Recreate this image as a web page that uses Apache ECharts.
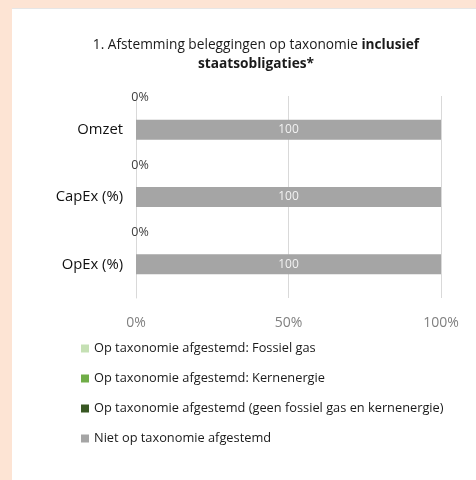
<!DOCTYPE html>
<html>
<head>
<meta charset="utf-8">
<script src="https://cdn.jsdelivr.net/npm/echarts@6/dist/echarts.min.js"></script>
<style>
html,body{margin:0;padding:0;background:#fff;}
#c{width:476px;height:480px;}
</style>
</head>
<body>
<div id="c"></div>
<script>
var categories = ['Omzet', 'CapEx (%)', 'OpEx (%)'];
var seriesNames = [
  'Op taxonomie afgestemd: Fossiel gas',
  'Op taxonomie afgestemd: Kernenergie',
  'Op taxonomie afgestemd (geen fossiel gas en kernenergie)',
  'Niet op taxonomie afgestemd'
];
var fossielGas = [0, 0, 0];
var kernenergie = [0, 0, 0];
var geenFossiel = [0, 0, 0];
var nietAfgestemd = [100, 100, 100];
var xTicks = [0, 50, 100];
var colors = ['#c5e0b4', '#70ad47', '#385723', '#a5a5a5'];

var FONT = 'Open Sans';
var chart = echarts.init(document.getElementById('c'));
var values = [fossielGas, kernenergie, geenFossiel, nietAfgestemd];

var series = values.map(function (vals, i) {
  var s = {
    name: seriesNames[i],
    type: 'bar',
    stack: 'total',
    data: vals,
    barWidth: 20,
    itemStyle: { color: colors[i] },
    emphasis: { disabled: true },
    label: { show: false }
  };
  if (i === 0) {
    s.label = {
      show: true,
      position: [4, -22],
      align: 'center',
      verticalAlign: 'middle',
      formatter: '{c}%',
      color: '#404040',
      fontFamily: FONT,
      fontSize: 12.5
    };
  }
  if (i === 3) {
    s.label = {
      show: true,
      position: 'inside',
      formatter: '{c}',
      color: '#f2f2f2',
      fontFamily: FONT,
      fontSize: 12
    };
  }
  return s;
});

chart.setOption({
  animation: false,
  backgroundColor: '#ffffff',
  graphic: [
    { type: 'rect', shape: { x: 0, y: 0, width: 476, height: 8 }, style: { fill: '#fde4d4' }, silent: true },
    { type: 'rect', shape: { x: 0, y: 0, width: 12, height: 480 }, style: { fill: '#fde4d4' }, silent: true },
    { type: 'line', shape: { x1: 12, y1: 8.5, x2: 476, y2: 8.5 }, style: { stroke: '#e6e6e6', lineWidth: 1 }, silent: true }
  ],
  title: {
    text: '1. Afstemming beleggingen op taxonomie {b|inclusief}\n{b|staatsobligaties*}',
    left: 251,
    textAlign: 'center',
    top: 31,
    textStyle: {
      fontFamily: FONT,
      fontSize: 13.7,
      fontWeight: 'normal',
      color: '#1a1a1a',
      lineHeight: 19,
      rich: {
        b: { fontFamily: FONT, fontSize: 13.7, fontWeight: 'bold', color: '#1a1a1a', lineHeight: 19 }
      }
    }
  },
  legend: {
    orient: 'vertical',
    left: 76,
    top: 336,
    itemWidth: 8,
    itemHeight: 8,
    itemGap: 15,
    icon: 'rect',
    selectedMode: false,
    data: seriesNames,
    textStyle: { fontFamily: FONT, fontSize: 12.8, color: '#1a1a1a', lineHeight: 15 }
  },
  grid: { left: 136, right: 35, top: 96, height: 202, containLabel: false },
  xAxis: {
    type: 'value',
    min: xTicks[0],
    max: xTicks[xTicks.length - 1],
    interval: xTicks[1] - xTicks[0],
    axisLine: { show: false },
    axisTick: { show: false },
    splitLine: { show: true, lineStyle: { color: '#d9d9d9', width: 1 } },
    axisLabel: { formatter: '{value}%', color: '#808080', fontFamily: FONT, fontSize: 14, margin: 18 }
  },
  yAxis: {
    type: 'category',
    data: categories,
    inverse: true,
    axisLine: { show: true, lineStyle: { color: '#d9d9d9' } },
    axisTick: { show: false },
    axisLabel: { color: '#111111', fontFamily: FONT, fontSize: 14.8, margin: 13 }
  },
  series: series
});
</script>
</body>
</html>
